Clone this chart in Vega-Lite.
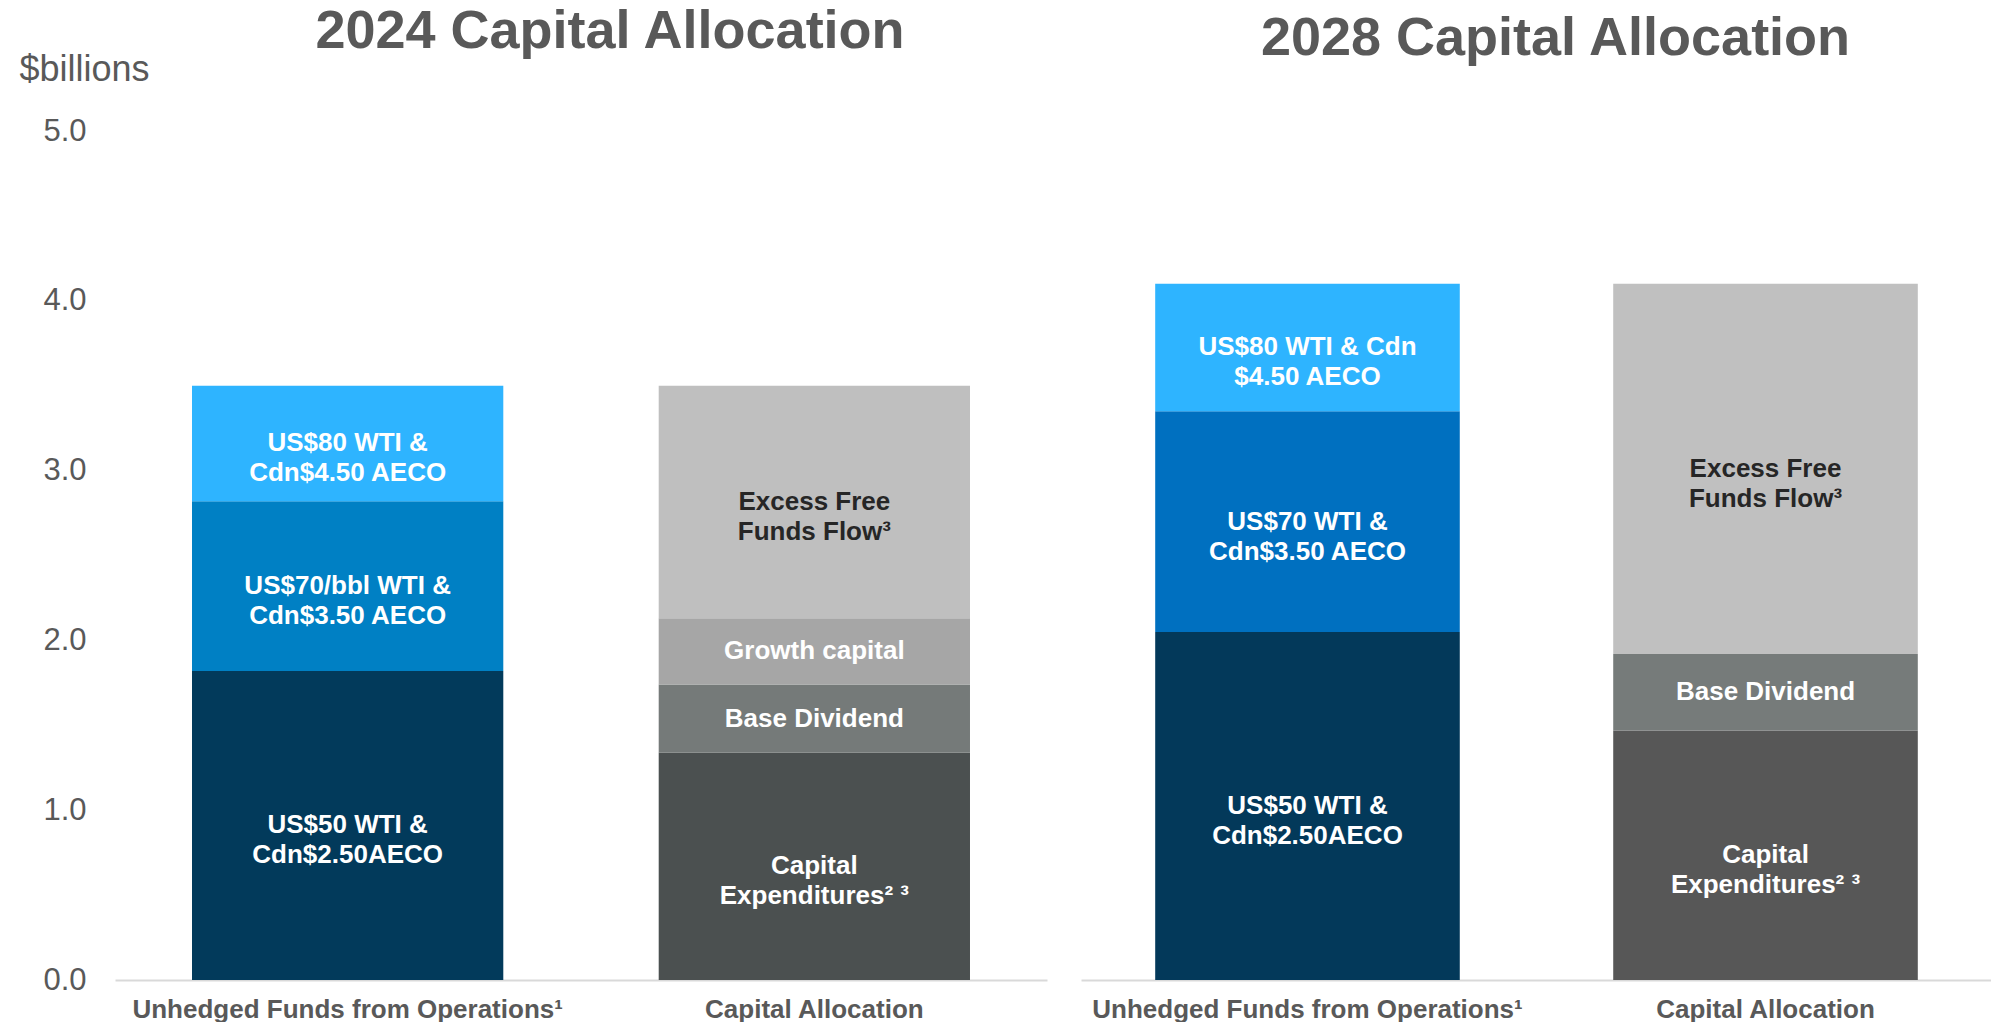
{
  "$schema": "https://vega.github.io/schema/vega-lite/v6.json",
  "padding": {"left": 19, "top": 5, "right": 0, "bottom": 0},
  "background": "white",
  "config": {
    "view": {"stroke": null},
    "font": "Liberation Sans"
  },
  "datasets": {
    "alloc": [
      {"year": 2024, "column": "Unhedged Funds from Operations¹", "seg": "2024 FFO50", "label": "US$50 WTI &\nCdn$2.50AECO", "value": 1.82, "ord": 1},
      {"year": 2024, "column": "Unhedged Funds from Operations¹", "seg": "2024 FFO70", "label": "US$70/bbl WTI &\nCdn$3.50 AECO", "value": 1.00, "ord": 2},
      {"year": 2024, "column": "Unhedged Funds from Operations¹", "seg": "2024 FFO80", "label": "US$80 WTI &\nCdn$4.50 AECO", "value": 0.68, "ord": 3},
      {"year": 2024, "column": "Capital Allocation", "seg": "2024 Capex", "label": "Capital\nExpenditures² ³", "value": 1.34, "ord": 1},
      {"year": 2024, "column": "Capital Allocation", "seg": "2024 Div", "label": "Base Dividend", "value": 0.40, "ord": 2},
      {"year": 2024, "column": "Capital Allocation", "seg": "2024 Growth", "label": "Growth capital", "value": 0.39, "ord": 3},
      {"year": 2024, "column": "Capital Allocation", "seg": "2024 Excess", "label": "Excess Free\nFunds Flow³", "value": 1.37, "ord": 4},
      {"year": 2028, "column": "Unhedged Funds from Operations¹", "seg": "2028 FFO50", "label": "US$50 WTI &\nCdn$2.50AECO", "value": 2.05, "ord": 1},
      {"year": 2028, "column": "Unhedged Funds from Operations¹", "seg": "2028 FFO70", "label": "US$70 WTI &\nCdn$3.50 AECO", "value": 1.30, "ord": 2},
      {"year": 2028, "column": "Unhedged Funds from Operations¹", "seg": "2028 FFO80", "label": "US$80 WTI & Cdn\n$4.50 AECO", "value": 0.75, "ord": 3},
      {"year": 2028, "column": "Capital Allocation", "seg": "2028 Capex", "label": "Capital\nExpenditures² ³", "value": 1.47, "ord": 1},
      {"year": 2028, "column": "Capital Allocation", "seg": "2028 Div", "label": "Base Dividend", "value": 0.45, "ord": 2},
      {"year": 2028, "column": "Capital Allocation", "seg": "2028 Excess", "label": "Excess Free\nFunds Flow³", "value": 2.18, "ord": 3}
    ]
  },
  "spacing": 34,
  "bounds": "flush",
  "hconcat": [
    {
      "width": 932,
      "height": 849,
      "data": {"name": "alloc"},
      "title": {"text": "2024 Capital Allocation", "fontSize": 54, "fontWeight": "bold", "color": "#595959", "font": "Liberation Sans", "anchor": "middle", "frame": "group", "dx": 29, "offset": -51, "baseline": "alphabetic"},
      "transform": [
        {"filter": "datum.year == 2024"},
        {"stack": "value", "groupby": ["column"], "sort": [{"field": "ord"}], "as": ["v0", "v1"]},
        {"calculate": "(datum.v0 + datum.v1) / 2", "as": "mid"}
      ],
      "encoding": {
        "x": {
          "field": "column", "type": "nominal",
          "sort": ["Unhedged Funds from Operations¹", "Capital Allocation"],
          "scale": {"paddingInner": 0.333, "paddingOuter": 0.165},
          "axis": {"title": null, "labelAngle": 0, "ticks": false, "domainColor": "#D9D9D9", "domainWidth": 2, "labelPadding": 16, "labelFontSize": 26, "labelFontWeight": "bold", "labelColor": "#595959", "labelFont": "Liberation Sans", "labelLimit": 0}
        }
      },
      "layer": [
        {
          "mark": {"type": "bar"},
          "encoding": {
            "y": {"field": "v1", "type": "quantitative", "scale": {"domain": [0, 5], "nice": false},
              "axis": {"values": [0, 1, 2, 3, 4, 5], "format": ".1f", "grid": false, "domain": false, "ticks": false, "labelPadding": 29, "labelFontSize": 31, "labelColor": "#595959", "labelFont": "Liberation Sans",
                "title": "$billions", "titleAngle": 0, "titleAlign": "left", "titleBaseline": "middle", "titleX": -96, "titleY": -62, "titleFontSize": 36, "titleFontWeight": "normal", "titleColor": "#595959", "titleFont": "Liberation Sans"}},
            "y2": {"field": "v0"},
            "color": {"field": "seg", "type": "nominal", "legend": null,
              "scale": {"domain": ["2024 FFO50", "2024 FFO70", "2024 FFO80", "2024 Capex", "2024 Div", "2024 Growth", "2024 Excess", "2028 FFO50", "2028 FFO70", "2028 FFO80", "2028 Capex", "2028 Div", "2028 Excess"],
                "range": ["#023A5B", "#0080C4", "#2EB4FF", "#4B5050", "#757A79", "#A6A6A6", "#BFBFBF", "#03395A", "#0070C0", "#2EB4FF", "#575757", "#767B7A", "#C0C0C0"]}}
          }
        },
        {
          "mark": {"type": "text", "fontSize": 26, "fontWeight": "bold", "font": "Liberation Sans", "lineBreak": "\n", "lineHeight": 30, "baseline": "middle", "align": "center"},
          "encoding": {
            "y": {"field": "mid", "type": "quantitative"},
            "text": {"field": "label"},
            "color": {"condition": {"test": "indexof(datum.seg, 'Excess') >= 0", "value": "#262626"}, "value": "white"}
          }
        }
      ]
    },
    {
      "width": 911,
      "height": 849,
      "data": {"name": "alloc"},
      "title": {"text": "2028 Capital Allocation", "fontSize": 54, "fontWeight": "bold", "color": "#595959", "font": "Liberation Sans", "anchor": "middle", "frame": "group", "dx": 19, "offset": 22, "baseline": "alphabetic"},
      "transform": [
        {"filter": "datum.year == 2028"},
        {"stack": "value", "groupby": ["column"], "sort": [{"field": "ord"}], "as": ["v0", "v1"]},
        {"calculate": "(datum.v0 + datum.v1) / 2", "as": "mid"}
      ],
      "encoding": {
        "x": {
          "field": "column", "type": "nominal",
          "sort": ["Unhedged Funds from Operations¹", "Capital Allocation"],
          "scale": {"paddingInner": 0.335, "paddingOuter": 0.162},
          "axis": {"title": null, "labelAngle": 0, "ticks": false, "domainColor": "#D9D9D9", "domainWidth": 2, "labelPadding": 16, "labelFontSize": 26, "labelFontWeight": "bold", "labelColor": "#595959", "labelFont": "Liberation Sans", "labelLimit": 0}
        }
      },
      "layer": [
        {
          "mark": {"type": "bar"},
          "encoding": {
            "y": {"field": "v1", "type": "quantitative", "scale": {"domain": [0, 5], "nice": false}, "axis": null},
            "y2": {"field": "v0"},
            "color": {"field": "seg", "type": "nominal", "legend": null}
          }
        },
        {
          "mark": {"type": "text", "fontSize": 26, "fontWeight": "bold", "font": "Liberation Sans", "lineBreak": "\n", "lineHeight": 30, "baseline": "middle", "align": "center"},
          "encoding": {
            "y": {"field": "mid", "type": "quantitative"},
            "text": {"field": "label"},
            "color": {"condition": {"test": "indexof(datum.seg, 'Excess') >= 0", "value": "#262626"}, "value": "white"}
          }
        }
      ]
    }
  ]
}
